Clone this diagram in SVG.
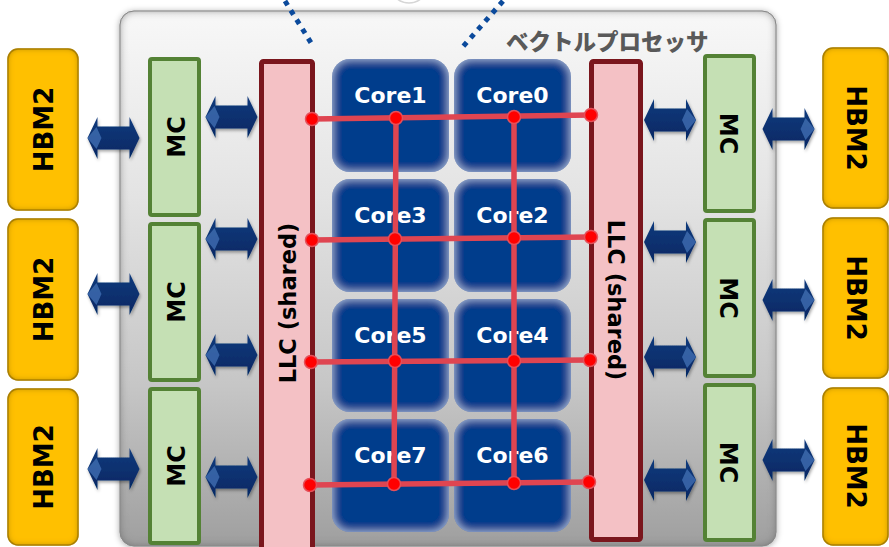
<svg xmlns="http://www.w3.org/2000/svg" xmlns:xlink="http://www.w3.org/1999/xlink" width="889" height="547" viewBox="0 0 889 547">
<defs>
<linearGradient id="boxGrad" x1="0" y1="0" x2="0" y2="1">
<stop offset="0" stop-color="#f8f8f8"/>
<stop offset="0.35" stop-color="#e3e3e3"/>
<stop offset="0.7" stop-color="#c6c6c6"/>
<stop offset="1" stop-color="#9f9f9f"/>
</linearGradient>
<linearGradient id="arrowGrad" x1="0" y1="0" x2="0" y2="1">
<stop offset="0" stop-color="#0f3a7c"/>
<stop offset="1" stop-color="#052763"/>
</linearGradient>
<filter id="boxFx" x="-5%" y="-5%" width="110%" height="110%">
<feFlood flood-color="#6e6e6e"/>
<feComposite in2="SourceAlpha" operator="out"/>
<feGaussianBlur stdDeviation="4"/>
<feComposite in2="SourceAlpha" operator="in" result="inner"/>
<feGaussianBlur in="SourceAlpha" stdDeviation="3"/>
<feOffset dx="0" dy="1" result="blur"/>
<feFlood flood-color="#000" flood-opacity="0.35"/>
<feComposite in2="blur" operator="in" result="shadow"/>
<feMerge><feMergeNode in="shadow"/><feMergeNode in="SourceGraphic"/><feMergeNode in="inner"/></feMerge>
</filter>
<filter id="hbmFx" x="-10%" y="-10%" width="120%" height="120%">
<feFlood flood-color="#9a7200"/>
<feComposite in2="SourceAlpha" operator="out"/>
<feGaussianBlur stdDeviation="3"/>
<feComposite in2="SourceAlpha" operator="in" result="inner"/>
<feMerge><feMergeNode in="SourceGraphic"/><feMergeNode in="inner"/></feMerge>
</filter>
<filter id="coreFx" x="-10%" y="-10%" width="120%" height="120%">
<feFlood flood-color="#a9c0e3"/>
<feComposite in2="SourceAlpha" operator="out"/>
<feGaussianBlur stdDeviation="4"/>
<feComposite in2="SourceAlpha" operator="in" result="inner"/>
<feMerge><feMergeNode in="SourceGraphic"/><feMergeNode in="inner"/></feMerge>
</filter>
<filter id="arrFx" x="-20%" y="-30%" width="140%" height="160%">
<feGaussianBlur in="SourceAlpha" stdDeviation="1.5"/>
<feOffset dx="1" dy="2" result="b"/>
<feFlood flood-color="#000" flood-opacity="0.35"/>
<feComposite in2="b" operator="in" result="s"/>
<feMerge><feMergeNode in="s"/><feMergeNode in="SourceGraphic"/></feMerge>
</filter>
<g id="arrow">
<path d="M-26,0 L-16,-21 L-16,-11.5 L16,-11.5 L16,-21 L26,0 L16,21 L16,11.5 L-16,11.5 L-16,21 Z" fill="url(#arrowGrad)"/>
<path d="M-26,0 L-17,-11 L-12,0 L-17,11 Z" fill="#3b67aa" opacity="0.9"/>
</g>
</defs>
<style>
.hbm{fill:#ffc000;stroke:#b88a00;stroke-width:1.5}
.hbmT{font-family:"DejaVu Sans",Verdana,sans-serif;font-weight:bold;font-size:26px;fill:#000;text-anchor:middle}
.mc{fill:#c5e0b4;stroke:#548235;stroke-width:4}
.mcT{font-family:"DejaVu Sans",Verdana,sans-serif;font-weight:bold;font-size:24px;fill:#000;text-anchor:middle}
.llc{fill:#f4c1c5;stroke:#7a161d;stroke-width:5}
.llcT{font-family:"DejaVu Sans",Verdana,sans-serif;font-weight:bold;font-size:22.5px;fill:#000;text-anchor:middle}
.core{fill:#003c8c}
.coreT{font-family:"DejaVu Sans",Verdana,sans-serif;font-weight:bold;font-size:22px;fill:#fff;text-anchor:middle}
.mesh{stroke:#df4551;stroke-width:5.5;fill:none;stroke-linecap:round}
.dot{fill:#ff0000;stroke:#e5505a;stroke-width:1.5}
.dotted{stroke:#0b4a9c;stroke-width:5;stroke-dasharray:5 6;fill:none}
</style>

<!-- faint arc at top -->
<circle cx="409" cy="-16" r="19" fill="#ffffff" stroke="#d6d6d6" stroke-width="1.5"/>

<g id="processor">
<rect x="120" y="11" width="656" height="535" rx="14" fill="url(#boxGrad)" stroke="#9c9c9c" stroke-width="1" filter="url(#boxFx)"/>
<text x="506" y="50" font-family="'Noto Sans CJK JP',sans-serif" font-weight="900" font-size="22.5" fill="#595959">ベクトルプロセッサ</text>
</g>

<g id="hbm2-left-1"><rect class="hbm" x="8" y="49" width="70" height="161" rx="10" filter="url(#hbmFx)"/><text class="hbmT" transform="translate(44,129.5) rotate(-90)" dy="0.36em">HBM2</text></g>
<g id="hbm2-left-2"><rect class="hbm" x="8" y="219" width="70" height="161" rx="10" filter="url(#hbmFx)"/><text class="hbmT" transform="translate(44,299.5) rotate(-90)" dy="0.36em">HBM2</text></g>
<g id="hbm2-left-3"><rect class="hbm" x="8" y="389" width="70" height="156" rx="10" filter="url(#hbmFx)"/><text class="hbmT" transform="translate(44,467) rotate(-90)" dy="0.36em">HBM2</text></g>
<g id="hbm2-right-1"><rect class="hbm" x="823" y="48" width="65" height="160" rx="10" filter="url(#hbmFx)"/><text class="hbmT" transform="translate(856,128) rotate(90)" dy="0.36em">HBM2</text></g>
<g id="hbm2-right-2"><rect class="hbm" x="823" y="218" width="65" height="160" rx="10" filter="url(#hbmFx)"/><text class="hbmT" transform="translate(856,298) rotate(90)" dy="0.36em">HBM2</text></g>
<g id="hbm2-right-3"><rect class="hbm" x="823" y="388" width="65" height="157" rx="10" filter="url(#hbmFx)"/><text class="hbmT" transform="translate(856,466) rotate(90)" dy="0.36em">HBM2</text></g>

<g id="mc-left-1"><rect class="mc" x="150" y="59" width="49" height="156" rx="2"/><text class="mcT" transform="translate(176,137) rotate(-90)" dy="0.36em">MC</text></g>
<g id="mc-left-2"><rect class="mc" x="150" y="224" width="49" height="156" rx="2"/><text class="mcT" transform="translate(176,302) rotate(-90)" dy="0.36em">MC</text></g>
<g id="mc-left-3"><rect class="mc" x="150" y="389" width="49" height="154" rx="2"/><text class="mcT" transform="translate(176,466) rotate(-90)" dy="0.36em">MC</text></g>
<g id="mc-right-1"><rect class="mc" x="705" y="56" width="49" height="155" rx="2"/><text class="mcT" transform="translate(729,133.5) rotate(90)" dy="0.36em">MC</text></g>
<g id="mc-right-2"><rect class="mc" x="705" y="220" width="49" height="156" rx="2"/><text class="mcT" transform="translate(729,298) rotate(90)" dy="0.36em">MC</text></g>
<g id="mc-right-3"><rect class="mc" x="705" y="385" width="49" height="155" rx="2"/><text class="mcT" transform="translate(729,462.5) rotate(90)" dy="0.36em">MC</text></g>

<g id="llc-left"><rect class="llc" x="261.5" y="61.5" width="51" height="490" rx="2"/><text class="llcT" transform="translate(288,303) rotate(-90)" dy="0.36em">LLC (shared)</text></g>
<g id="llc-right"><rect class="llc" x="591.5" y="61.5" width="49" height="478" rx="2"/><text class="llcT" transform="translate(616,300) rotate(90)" dy="0.36em">LLC (shared)</text></g>

<g id="core1"><rect class="core" x="332" y="59" width="117" height="113" rx="18" filter="url(#coreFx)"/><text class="coreT" x="390.5" y="103">Core1</text></g>
<g id="core0"><rect class="core" x="454" y="59" width="117" height="113" rx="18" filter="url(#coreFx)"/><text class="coreT" x="512.5" y="103">Core0</text></g>
<g id="core3"><rect class="core" x="332" y="179" width="117" height="113" rx="18" filter="url(#coreFx)"/><text class="coreT" x="390.5" y="223">Core3</text></g>
<g id="core2"><rect class="core" x="454" y="179" width="117" height="113" rx="18" filter="url(#coreFx)"/><text class="coreT" x="512.5" y="223">Core2</text></g>
<g id="core5"><rect class="core" x="332" y="299" width="117" height="113" rx="18" filter="url(#coreFx)"/><text class="coreT" x="390.5" y="343">Core5</text></g>
<g id="core4"><rect class="core" x="454" y="299" width="117" height="113" rx="18" filter="url(#coreFx)"/><text class="coreT" x="512.5" y="343">Core4</text></g>
<g id="core7"><rect class="core" x="332" y="419" width="117" height="113" rx="18" filter="url(#coreFx)"/><text class="coreT" x="390.5" y="463">Core7</text></g>
<g id="core6"><rect class="core" x="454" y="419" width="117" height="113" rx="18" filter="url(#coreFx)"/><text class="coreT" x="512.5" y="463">Core6</text></g>

<g id="connectors">
<line class="dotted" x1="285" y1="1" x2="313" y2="46"/>
<line class="dotted" x1="503" y1="1" x2="460" y2="50"/>

<g filter="url(#arrFx)">
<use xlink:href="#arrow" transform="translate(113.5,138)"/>
<use xlink:href="#arrow" transform="translate(113.5,294)"/>
<use xlink:href="#arrow" transform="translate(113.5,469)"/>
<use xlink:href="#arrow" transform="translate(231.5,117)"/>
<use xlink:href="#arrow" transform="translate(231.5,239)"/>
<use xlink:href="#arrow" transform="translate(231.5,355)"/>
<use xlink:href="#arrow" transform="translate(231.5,477)"/>
<use xlink:href="#arrow" transform="translate(670,120) scale(-1,1)"/>
<use xlink:href="#arrow" transform="translate(670,242) scale(-1,1)"/>
<use xlink:href="#arrow" transform="translate(670,357) scale(-1,1)"/>
<use xlink:href="#arrow" transform="translate(670,480) scale(-1,1)"/>
<use xlink:href="#arrow" transform="translate(788.5,129) scale(-1,1)"/>
<use xlink:href="#arrow" transform="translate(788.5,300) scale(-1,1)"/>
<use xlink:href="#arrow" transform="translate(788.5,460) scale(-1,1)"/>
</g>

<g id="mesh">
<line class="mesh" x1="312" y1="119" x2="591" y2="115"/>
<line class="mesh" x1="312" y1="240" x2="591" y2="237"/>
<line class="mesh" x1="311" y1="362" x2="590" y2="360"/>
<line class="mesh" x1="310" y1="485" x2="589" y2="482"/>
<line class="mesh" x1="396" y1="118" x2="394" y2="484"/>
<line class="mesh" x1="514" y1="117" x2="514" y2="483"/>
<circle class="dot" cx="312" cy="119" r="6.5"/>
<circle class="dot" cx="396" cy="118" r="6.5"/>
<circle class="dot" cx="514" cy="117" r="6.5"/>
<circle class="dot" cx="591" cy="115" r="6.5"/>
<circle class="dot" cx="312" cy="240" r="6.5"/>
<circle class="dot" cx="395" cy="239" r="6.5"/>
<circle class="dot" cx="514" cy="238" r="6.5"/>
<circle class="dot" cx="591" cy="237" r="6.5"/>
<circle class="dot" cx="311" cy="362" r="6.5"/>
<circle class="dot" cx="395" cy="361" r="6.5"/>
<circle class="dot" cx="514" cy="361" r="6.5"/>
<circle class="dot" cx="590" cy="360" r="6.5"/>
<circle class="dot" cx="310" cy="485" r="6.5"/>
<circle class="dot" cx="394" cy="484" r="6.5"/>
<circle class="dot" cx="514" cy="483" r="6.5"/>
<circle class="dot" cx="589" cy="482" r="6.5"/>
</g>
</g>
</svg>
